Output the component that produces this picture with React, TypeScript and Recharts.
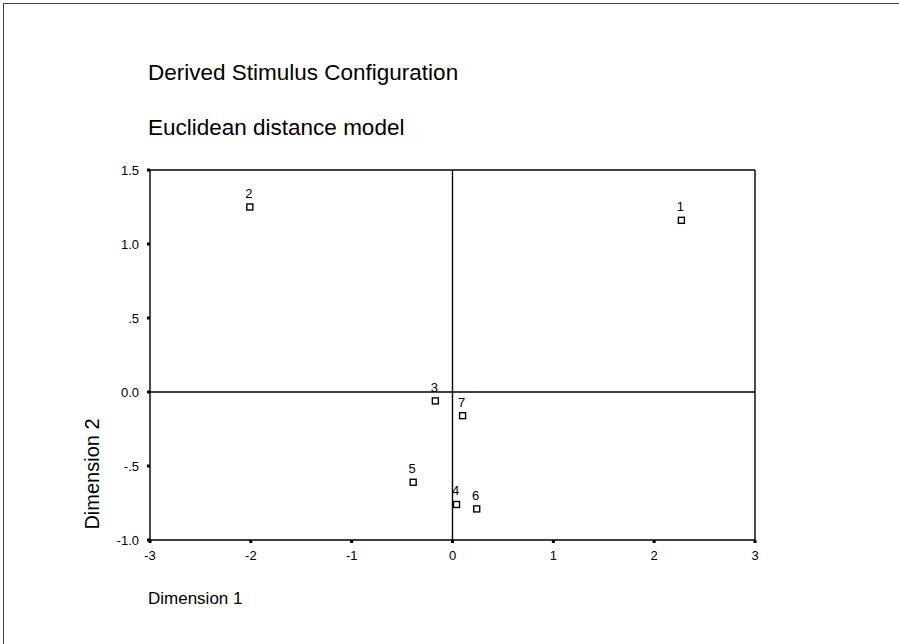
import {
  ScatterChart,
  Scatter,
  XAxis,
  YAxis,
  ReferenceLine,
} from "recharts";

const stimulusIds = ["1", "2", "3", "4", "5", "6", "7"];
const dim1Values = [2.27, -2.01, -0.17, 0.04, -0.39, 0.24, 0.1];
const dim2Values = [1.16, 1.25, -0.06, -0.76, -0.61, -0.79, -0.16];

const xTicks = [-3, -2, -1, 0, 1, 2, 3];
const yTicks = [-1, -0.5, 0, 0.5, 1, 1.5];
const yTickLabels = ["-1.0", "-.5", "0.0", ".5", "1.0", "1.5"];

const points = stimulusIds.map((id, i) => ({
  id,
  x: dim1Values[i],
  y: dim2Values[i],
}));

const FONT = '"Liberation Sans", Arial, sans-serif';

function SquareMarker(props: any) {
  const { cx, cy, payload } = props;
  if (cx == null || cy == null) return null;
  return (
    <g>
      <rect
        x={cx - 3}
        y={cy - 3}
        width={6}
        height={6}
        fill="#fff"
        stroke="#000"
        strokeWidth={1.4}
      />
      <text
        x={cx - 1}
        y={cy - 9}
        textAnchor="middle"
        fontSize={13}
        fontFamily={FONT}
        fill="#000"
      >
        {payload.id}
      </text>
    </g>
  );
}

export default function App() {
  return (
    <div
      style={{
        position: "absolute",
        left: 0,
        top: 0,
        width: 899,
        height: 644,
        background: "#fff",
        fontFamily: FONT,
        color: "#000",
      }}
    >
      <div
        style={{
          position: "absolute",
          left: 3,
          top: 3,
          width: 896,
          height: 641,
          borderLeft: "1px solid #444",
          borderTop: "1px solid #444",
        }}
      />
      <div style={{ position: "absolute", left: 148, top: 60, fontSize: 22.5 }}>
        Derived Stimulus Configuration
      </div>
      <div style={{ position: "absolute", left: 148, top: 115, fontSize: 22.5 }}>
        Euclidean distance model
      </div>
      <div
        style={{
          position: "absolute",
          left: 92,
          top: 474,
          fontSize: 20,
          transform: "translate(-50%, -50%) rotate(-90deg)",
          whiteSpace: "nowrap",
        }}
      >
        Dimension 2
      </div>
      <div style={{ position: "absolute", left: 148, top: 589, fontSize: 17 }}>
        Dimension 1
      </div>
      <div style={{ position: "absolute", left: 0, top: 0 }}>
        <ScatterChart
          width={899}
          height={644}
          margin={{ top: 170, right: 144, bottom: 74, left: 90 }}
        >
          <XAxis
            type="number"
            dataKey="x"
            domain={[-3, 3]}
            ticks={xTicks}
            allowDataOverflow
            axisLine={{ stroke: "#000", strokeWidth: 1.4 }}
            tickLine={{ stroke: "#000", strokeWidth: 3 }}
            tickSize={3}
            tick={{ fill: "#000", fontSize: 13, fontFamily: FONT, dy: 6 }}
            height={30}
          />
          <YAxis
            type="number"
            dataKey="y"
            domain={[-1, 1.5]}
            ticks={yTicks}
            allowDataOverflow
            axisLine={{ stroke: "#000", strokeWidth: 1.4 }}
            tickLine={{ stroke: "#000", strokeWidth: 3 }}
            tickSize={3}
            tick={{ fill: "#000", fontSize: 13, fontFamily: FONT, dx: -6 }}
            tickFormatter={(v: number) => yTickLabels[yTicks.indexOf(v)] ?? String(v)}
            width={60}
          />
          <ReferenceLine y={1.5} stroke="#000" strokeWidth={1.4} />
          <ReferenceLine x={3} stroke="#000" strokeWidth={1.4} />
          <ReferenceLine y={0} stroke="#000" strokeWidth={1.4} />
          <ReferenceLine x={0} stroke="#000" strokeWidth={1.4} />
          <Scatter
            data={points}
            shape={<SquareMarker />}
            isAnimationActive={false}
          />
        </ScatterChart>
      </div>
    </div>
  );
}
